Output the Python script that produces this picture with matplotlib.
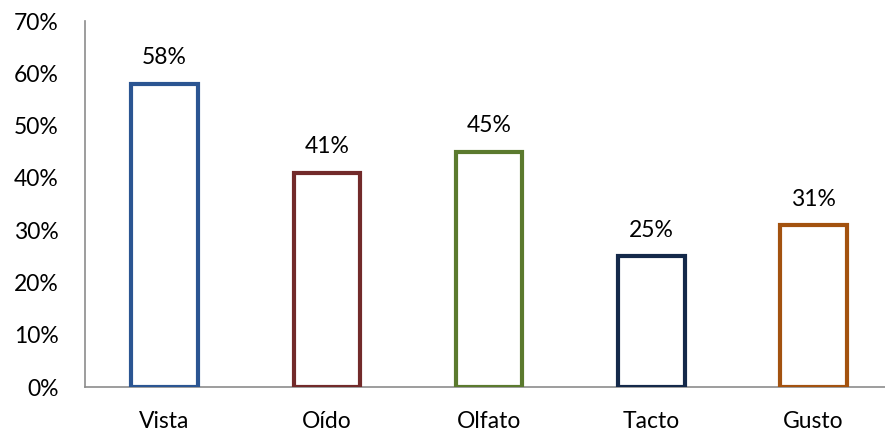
import matplotlib
matplotlib.use("Agg")
import matplotlib.pyplot as plt
from matplotlib.ticker import FuncFormatter

categories = ["Vista", "Oído", "Olfato", "Tacto", "Gusto"]
values = [58, 41, 45, 25, 31]
edge_colors = ["#2B5592", "#722A2A", "#5B7A2E", "#14294A", "#A3520F"]

plt.rcParams["font.family"] = ["Lato", "DejaVu Sans"]

fig = plt.figure(figsize=(8.85, 4.32), dpi=100)
ax = fig.add_axes([85 / 885, 1 - 387 / 432, 1 - 85 / 885, (387 - 21) / 432])

x = list(range(len(categories)))
bars = ax.bar(x, values, width=0.41, facecolor="white",
              edgecolor=edge_colors, linewidth=3, zorder=3)

for xi, v in zip(x, values):
    ax.annotate(f"{v}%", (xi, v), xytext=(0, 11), textcoords="offset points",
                ha="center", va="bottom", fontsize=16.5, color="black")

ax.set_ylim(0, 70)
ax.set_yticks(range(0, 71, 10))
ax.yaxis.set_major_formatter(FuncFormatter(lambda y, _: f"{int(y)}%"))
ax.set_xlim(-0.49, 4.44)
ax.set_xticks(x)
ax.set_xticklabels(categories)

ax.tick_params(axis="both", length=0, labelsize=16.5, colors="black")
ax.tick_params(axis="x", pad=17)
ax.tick_params(axis="y", pad=19)

for side in ["top", "right"]:
    ax.spines[side].set_visible(False)
for side in ["left", "bottom"]:
    ax.spines[side].set_color("#8C8C8C")
    ax.spines[side].set_linewidth(1.2)

fig.savefig("out.png", dpi=100)
